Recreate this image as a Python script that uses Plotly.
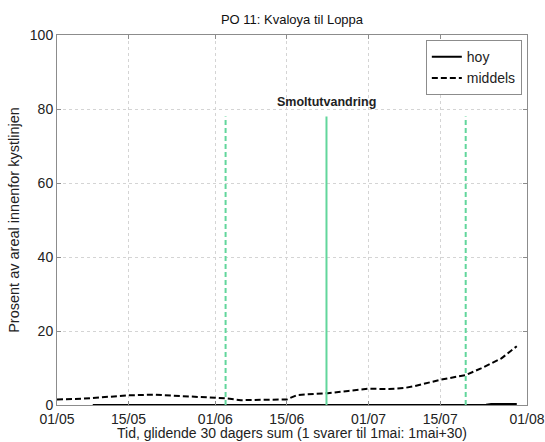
import plotly.graph_objects as go

# Data (dates in 2000 used only as a calendar vehicle; labels show dd/mm)
middels_dates = ["2000-05-01", "2000-05-06", "2000-05-11", "2000-05-15", "2000-05-20",
                 "2000-05-25", "2000-05-30", "2000-06-03", "2000-06-06", "2000-06-10",
                 "2000-06-15", "2000-06-17", "2000-06-23", "2000-06-27", "2000-07-01",
                 "2000-07-05", "2000-07-08", "2000-07-10", "2000-07-15", "2000-07-20",
                 "2000-07-23", "2000-07-27", "2000-07-30"]
middels_vals = [1.5, 1.7, 2.2, 2.6, 2.8, 2.5, 2.0, 1.8, 1.3, 1.3,
                1.5, 2.7, 3.2, 3.8, 4.4, 4.3, 4.6, 5.1, 6.8, 8.1,
                9.9, 12.6, 15.9]

hoy_dates = ["2000-05-08", "2000-06-15", "2000-07-10", "2000-07-24", "2000-07-25", "2000-07-30"]
hoy_vals = [0.0, 0.0, 0.0, 0.05, 0.3, 0.3]

smolt_dashed = ["2000-06-03", "2000-07-20"]
smolt_solid = ["2000-06-22T18:00"]
smolt_top = 78
smolt_label = "Smoltutvandring"
smolt_label_y = 82

tick_dates = ["2000-05-01", "2000-05-15", "2000-06-01", "2000-06-15",
              "2000-07-01", "2000-07-15", "2000-08-01"]
tick_labels = ["01/05", "15/05", "01/06", "15/06", "01/07", "15/07", "01/08"]
y_ticks = [0, 20, 40, 60, 80, 100]

x_title = "Tid, glidende 30 dagers sum (1 svarer til 1mai: 1mai+30)"
y_title = "Prosent av areal innenfor kystlinjen"

green = "#62d69c"
font_family = "Liberation Sans, Arial, sans-serif"

fig = go.Figure()

fig.add_trace(go.Scatter(x=hoy_dates, y=hoy_vals, mode="lines", name="hoy",
                         line=dict(color="black", width=2)))
fig.add_trace(go.Scatter(x=middels_dates, y=middels_vals, mode="lines", name="middels",
                         line=dict(color="black", width=2, dash="6px,3px")))

for d in smolt_dashed:
    fig.add_trace(go.Scatter(x=[d, d], y=[0, smolt_top], mode="lines", showlegend=False,
                             line=dict(color=green, width=2, dash="5px,3px"), hoverinfo="skip"))
for d in smolt_solid:
    fig.add_trace(go.Scatter(x=[d, d], y=[0, smolt_top], mode="lines", showlegend=False,
                             line=dict(color=green, width=2), hoverinfo="skip"))

fig.add_annotation(x=smolt_solid[0], y=smolt_label_y, text="<b>" + smolt_label + "</b>",
                   showarrow=False, font=dict(family=font_family, size=12.5, color="#222"))

# x-axis title as a paper annotation (tight spacing like the reference)
fig.add_annotation(x=0.5, y=-27.5 / 370, xref="paper", yref="paper", text=x_title,
                   showarrow=False, xanchor="center", yanchor="middle",
                   font=dict(family=font_family, size=14, color="#222"))

axis_common = dict(showline=True, linecolor="#8c8c8c", linewidth=1, mirror="ticks",
                   ticks="inside", ticklen=4, tickcolor="#8c8c8c",
                   showgrid=True, gridcolor="#d4d4d4", griddash="dot", gridwidth=1,
                   zeroline=False, automargin=False, ticklabeloverflow="allow",
                   tickfont=dict(family=font_family, size=14, color="#222"))

fig.update_xaxes(type="date", range=["2000-05-01", "2000-08-01"],
                 tickvals=tick_dates, ticktext=tick_labels, ticklabelstandoff=1,
                 **axis_common)
fig.update_yaxes(range=[0, 100], tickvals=y_ticks,
                 title=dict(text=y_title,
                            font=dict(family=font_family, size=14.5, color="#222"), standoff=6),
                 **axis_common)

fig.update_layout(
    width=545, height=442,
    margin=dict(l=57, r=18, t=35, b=37),
    paper_bgcolor="white", plot_bgcolor="white",
    title=dict(text="PO 11: Kvaloya til Loppa", x=0.5, xref="paper", xanchor="center",
               y=1 - 19 / 442, yanchor="middle",
               font=dict(family=font_family, size=13, color="#111")),
    legend=dict(x=0.989, y=0.986, xanchor="right", yanchor="top",
                bordercolor="#8c8c8c", borderwidth=1, bgcolor="white",
                font=dict(family=font_family, size=14, color="#222"),
                tracegroupgap=0, itemwidth=30),
    showlegend=True,
)

fig.write_html("out.html")
